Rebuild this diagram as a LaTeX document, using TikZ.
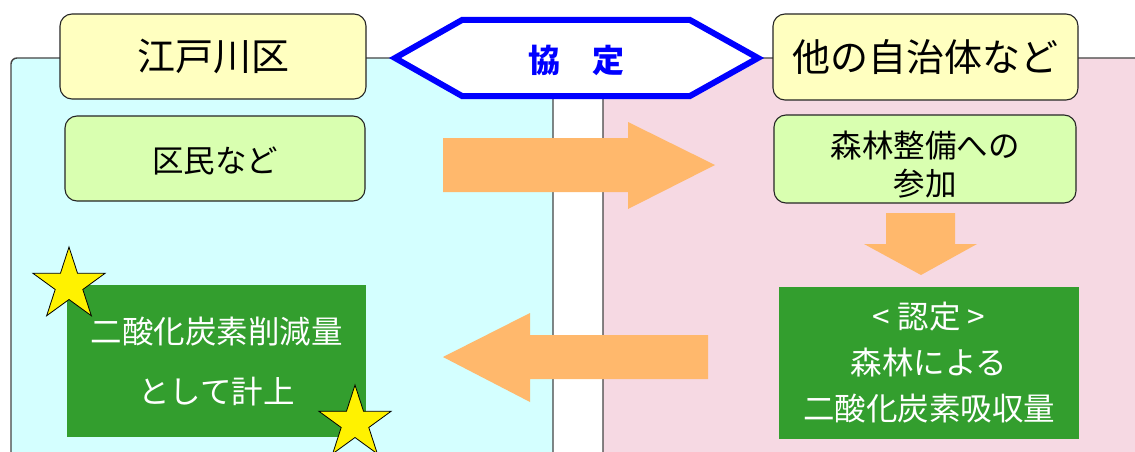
\documentclass[tikz,border=0pt]{standalone}
\usepackage{fontspec}
\newfontfamily\jp{Noto Sans CJK JP}
\usetikzlibrary{shapes.geometric}
\definecolor{cyanbg}{HTML}{D4FFFF}
\definecolor{pinkbg}{HTML}{F6D9E3}
\definecolor{boxyellow}{HTML}{FFFFC0}
\definecolor{boxlgreen}{HTML}{D9FFB0}
\definecolor{boxgreen}{HTML}{339E2E}
\definecolor{arroworange}{HTML}{FFB86C}
\definecolor{panelline}{HTML}{444444}
\tikzset{
  panel/.style={draw=panelline, line width=1.4pt, rounded corners=6pt},
  titlebox/.style={draw=black!85, line width=1.1pt, rounded corners=12pt, fill=boxyellow, font=\jp\fontsize{38}{42}\selectfont},
  actbox/.style={draw=black!85, line width=1.1pt, rounded corners=12pt, fill=boxlgreen},
  acttext/.style={font=\jp\fontsize{31.5}{38}\selectfont, align=center},
  resbox/.style={fill=boxgreen, text=white, align=center},
  bigarrow/.style={fill=arroworange, draw=none},
  starshape/.style={star, star points=5, star point ratio=2.618, draw=black, line width=0.8pt, fill=yellow, inner sep=0pt, minimum size=76pt},
}
\begin{document}
\begin{tikzpicture}[x=1pt, y=-1pt]
\clip (0,0) rectangle (1135,452);
\fill[white] (0,0) rectangle (1135,452);
% panels
\draw[panel, fill=cyanbg] (11,480) -- (11,58) -- (553,58) -- (553,480);
\draw[panel, fill=pinkbg] (603,480) -- (603,58) -- (1160,58) -- (1160,480);
% title boxes
\node[titlebox, minimum width=306pt, minimum height=85pt] (edogawa) at (213,56.5) {江戸川区};
\node[titlebox, minimum width=305pt, minimum height=86pt] (others) at (925.5,57) {他の自治体など};
% agreement hexagon
\coordinate (hexL) at (395,58);
\coordinate (hexR) at (758,58);
\filldraw[draw=blue, fill=white, line width=6pt, line join=miter]
  (hexL) -- (462,20) -- (690,20) -- (hexR) -- (690,96) -- (462,96) -- cycle;
\node[text=blue, font=\jp\bfseries\fontsize{32}{36}\selectfont] (kyotei) at (576.5,60) {協　定};
% activity boxes
\node[actbox, minimum width=300pt, minimum height=85pt] (kumin) at (215,158.5) {};
\node[acttext] (kumintext) at (215,161) {区民など};
\node[actbox, minimum width=302pt, minimum height=88pt] (shinrin) at (925,159) {};
\node[acttext] (shinrintext) at (925,165) {森林整備への\\参加};
% result boxes
\node[resbox, minimum width=299pt, minimum height=152pt, font=\jp\fontsize{31.5}{60}\selectfont] (sakugen) at (216.5,361) {二酸化炭素削減量\\として計上};
\node[resbox, minimum width=300pt, minimum height=152pt, font=\jp\fontsize{31.5}{46}\selectfont] (kyushu) at (929,363) {< 認定 >\\森林による\\二酸化炭素吸収量};
% arrows
\fill[bigarrow] (443,138) -- (628,138) -- (628,122) -- (715,165) -- (628,209) -- (628,192) -- (443,192) -- cycle;
\fill[bigarrow] (886,213) -- (955,213) -- (955,244) -- (977,244) -- (921,275) -- (864,244) -- (886,244) -- cycle;
\fill[bigarrow] (708,335) -- (530,335) -- (530,313) -- (443,357) -- (530,402) -- (530,379) -- (708,379) -- cycle;
% stars
\node[starshape] (star1) at (69,285) {};
\node[starshape] (star2) at (355,423) {};
\end{tikzpicture}
\end{document}
